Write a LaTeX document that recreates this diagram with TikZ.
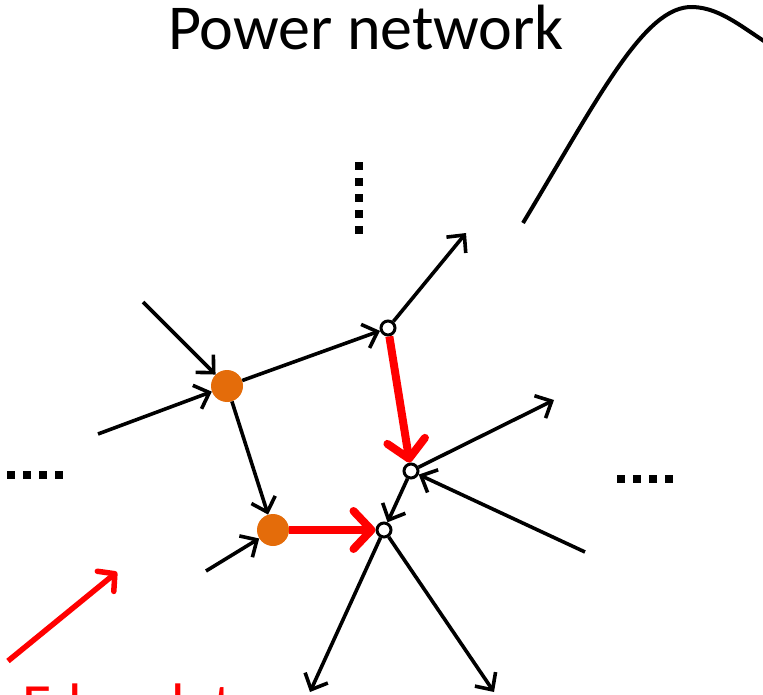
\documentclass[tikz,border=0pt]{standalone}
\usepackage{fontspec}
\setmainfont{Carlito}
\usetikzlibrary{arrows.meta}
\definecolor{busorange}{HTML}{E46C0A}
\definecolor{flowred}{HTML}{FF0000}
\begin{document}
\begin{tikzpicture}[x=1pt,y=-1pt,
  bus/.style={circle,fill=busorange,minimum size=32pt,inner sep=0pt},
  junction/.style={circle,draw=black,fill=white,line width=3pt,minimum size=14pt,inner sep=0pt},
  link/.style={line width=3.6pt,-{Straight Barb[length=13pt,width=25pt,line width=3.6pt]}},
  flow/.style={draw=flowred,line width=8pt,-{Straight Barb[length=18pt,width=38pt,line width=8pt,round]}},
  thinflow/.style={draw=flowred,line width=5.5pt,-{Straight Barb[length=12pt,width=26pt,line width=5.5pt,round]}},
  dot/.style={fill=black}]
\useasboundingbox (0,0) rectangle (763,695);
\clip (0,0) rectangle (763,695);

% title
\node[anchor=base,font=\fontsize{64}{70}\selectfont] (title) at (366,50) {Power network};

% buses and junctions
\node[bus] (A) at (227,386) {};
\node[bus] (B) at (273,530) {};
\node[junction] (C) at (388,328) {};
\node[junction] (D) at (411,471) {};
\node[junction] (E) at (384,530) {};

% free ends of the open branches
\coordinate (a1) at (143,302);
\coordinate (a2) at (98,434);
\coordinate (b1) at (206,571);
\coordinate (c1) at (466,233);
\coordinate (d1) at (554,400);
\coordinate (d2) at (585,552);
\coordinate (e1) at (310,692);
\coordinate (e2) at (494,692);

% black branches
\draw[link] (a1) -- (A);
\draw[link] (a2) -- (A);
\draw[link] (A) -- (C);
\draw[link] (A) -- (B);
\draw[link] (b1) -- (B);
\draw[link] (C) -- (c1);
\draw[link] (D) -- (d1);
\draw[link] (d2) -- (D);
\draw[link] (D) -- (E);
\draw[link] (E) -- (e1);
\draw[link] (E) -- (e2);

% red flows
\draw[flow] (C) -- (D);
\draw[flow] (B) -- (E);

% red pointer and its caption
\coordinate (p0) at (8,661);
\coordinate (p1) at (117,572);
\draw[thinflow] (p0) -- (p1);
\node[anchor=base west,text=flowred,font=\fontsize{60}{66}\selectfont] (caption) at (19,725) {Edge data};

% ellipsis marks
\foreach \y in {162,178,194,210,226} \fill[dot] (355,\y) rectangle ++(8,8);
\foreach \x in {7,23,39,55} \fill[dot] (\x,471) rectangle ++(8,8);
\foreach \x in {617,633,649,665} \fill[dot] (\x,475) rectangle ++(8,8);

% curve at the upper right
\draw[line width=4pt] (523,223) .. controls (600,95) and (645,5) .. (693,7)
  .. controls (722,8) and (745,30) .. (775,48);
\end{tikzpicture}
\end{document}
